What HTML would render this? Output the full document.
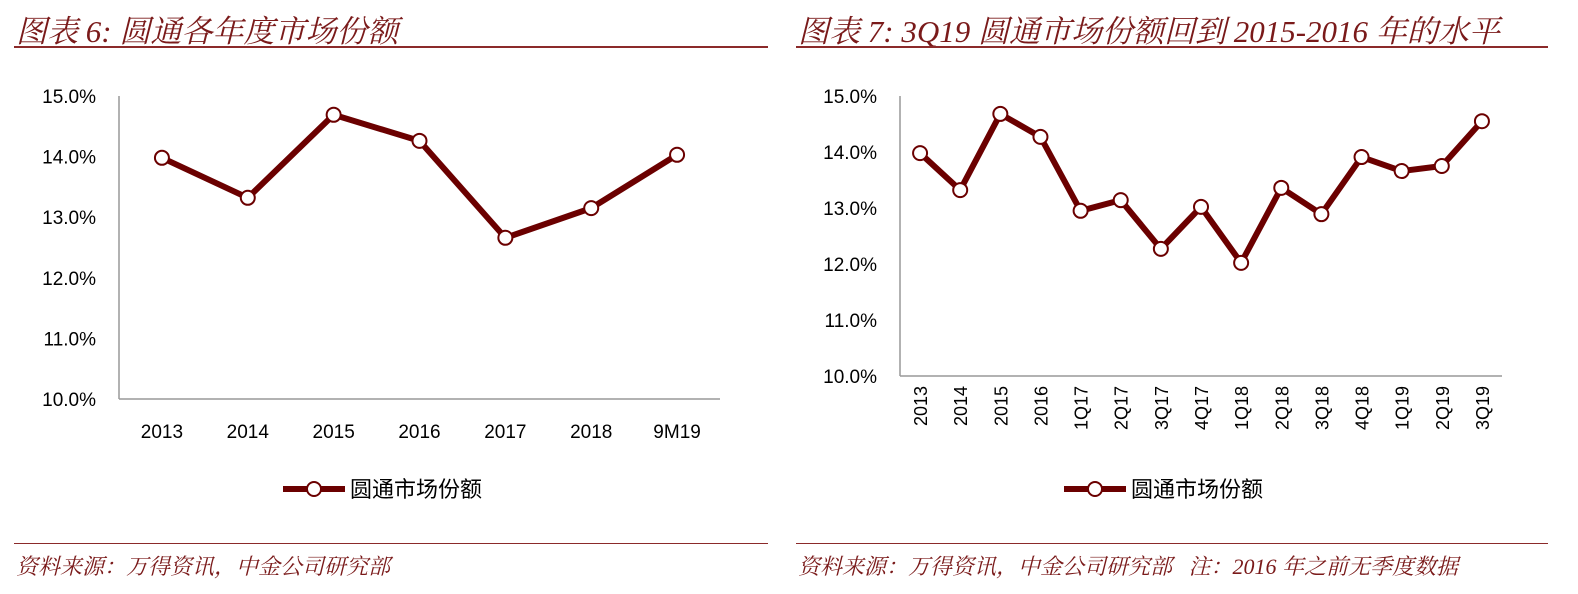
<!DOCTYPE html>
<html><head><meta charset="utf-8"><style>
body{margin:0;background:#fff;width:1578px;height:594px;overflow:hidden;font-family:"Liberation Sans","Noto Sans CJK SC",sans-serif}
.t{position:absolute;font-style:italic;color:#7a1a1a;font-family:"Liberation Serif","Noto Serif CJK SC",serif;white-space:nowrap}
.rule{position:absolute;height:2px;background:#8b2a2a}
</style></head><body>
<div class="t" style="left:16px;top:6px;font-size:31px">图表 6:  圆通各年度市场份额</div>
<div class="t" style="left:798px;top:6px;font-size:31px">图表 7: 3Q19 圆通市场份额回到 2015-2016 年的水平</div>
<div class="rule" style="left:14px;top:46px;width:754px"></div>
<div class="rule" style="left:796px;top:46px;width:752px"></div>
<div class="rule" style="left:14px;top:543px;width:754px;height:1px"></div>
<div class="rule" style="left:796px;top:543px;width:752px;height:1px"></div>
<div class="t" style="left:16px;top:550px;font-size:22px">资料来源：万得资讯，中金公司研究部</div>
<div class="t" style="left:798px;top:550px;font-size:22px">资料来源：万得资讯，中金公司研究部 &nbsp; 注：2016 年之前无季度数据</div>
<svg id="svg" width="1578" height="594" style="position:absolute;left:0;top:0"></svg>
<script>
const cats1=["2013","2014","2015","2016","2017","2018","9M19"];
const vals1=[13.98,13.32,14.69,14.26,12.66,13.15,14.03];
const cats2=["2013","2014","2015","2016","1Q17","2Q17","3Q17","4Q17","1Q18","2Q18","3Q18","4Q18","1Q19","2Q19","3Q19"];
const vals2=[13.98,13.32,14.68,14.27,12.95,13.14,12.27,13.02,12.02,13.36,12.89,13.91,13.66,13.75,14.55];
const ticks=[10,11,12,13,14,15];
const tickLabels=["10.0%","11.0%","12.0%","13.0%","14.0%","15.0%"];
const legendLabel="圆通市场份额";
const NS="http://www.w3.org/2000/svg";
const svg=document.getElementById('svg');
function mk(tag,a,parent){const e=document.createElementNS(NS,tag);for(const k in a)e.setAttribute(k,a[k]);(parent||svg).appendChild(e);return e;}
function chart(cfg,cats,vals,id){
  const g=mk('g',{});
  
  
  const y=v=>cfg.y0-(v-10)/5*(cfg.y0-cfg.y1);
  const step=(cfg.xr-cfg.xl)/cats.length;
  const x=i=>cfg.xl+step*(i+0.5);
  const ax=mk('line',{x1:cfg.xl,y1:cfg.y1,x2:cfg.xl,y2:cfg.y0,stroke:'#999','stroke-width':1.5},g);
  
  
  const bx=mk('line',{x1:cfg.xl,y1:cfg.y0,x2:cfg.xr,y2:cfg.y0,stroke:'#999','stroke-width':1.5},g);
  
  
  ticks.forEach((t,i)=>{
    const tx=mk('text',{x:cfg.xl-23,y:y(t)+7,'text-anchor':'end','font-size':19,fill:'#000'},g);
    tx.textContent=tickLabels[i];
    
    
  });
  cats.forEach((c,i)=>{
    let tx;
    if(cfg.rot){
      tx=mk('text',{x:0,y:0,transform:`translate(${x(i)+7},${cfg.y0+10}) rotate(-90)`,'text-anchor':'end','font-size':18,fill:'#000'},g);
    } else {
      tx=mk('text',{x:x(i),y:cfg.y0+39,'text-anchor':'middle','font-size':19,fill:'#000'},g);
    }
    tx.textContent=c;
    
    
  });
  const pl=mk('polyline',{points:vals.map((v,i)=>x(i)+','+y(v)).join(' '),fill:'none',stroke:'#6b0000','stroke-width':6,'stroke-linejoin':'round'},g);
  
  
  vals.forEach((v,i)=>{
    const c=mk('circle',{cx:x(i),cy:y(v),r:7,fill:'#fff',stroke:'#6b0000','stroke-width':2},g);
    
    
  });
  const ll=mk('line',{x1:cfg.lx,y1:cfg.ly,x2:cfg.lx+62,y2:cfg.ly,stroke:'#6b0000','stroke-width':6},g);
  
  
  const lc=mk('circle',{cx:cfg.lx+31,cy:cfg.ly,r:7,fill:'#fff',stroke:'#6b0000','stroke-width':2},g);
  
  
  const lt=mk('text',{x:cfg.lx+67,y:cfg.ly+8,'font-size':22,fill:'#000'},g);
  lt.textContent=legendLabel;
  
  
}
chart({xl:119,xr:720,y0:399,y1:96,rot:false,lx:283,ly:489},cats1,vals1,'c6');
chart({xl:900,xr:1502,y0:376,y1:96,rot:true,lx:1064,ly:489},cats2,vals2,'c7');
</script>
</body></html>
